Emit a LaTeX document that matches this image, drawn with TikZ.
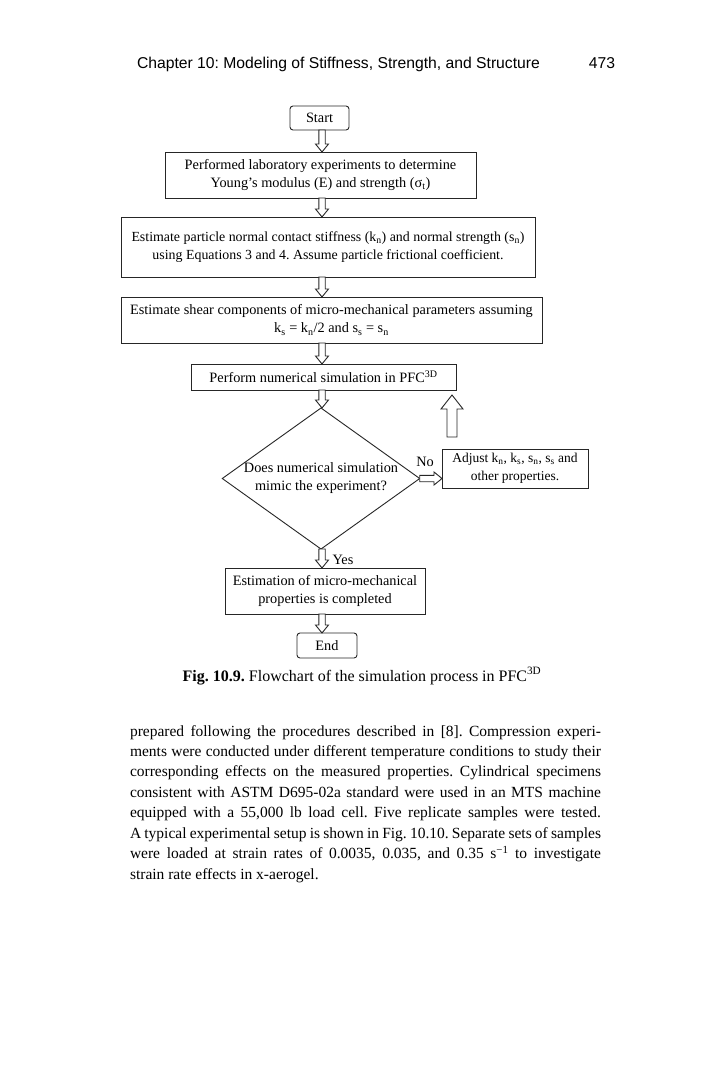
\documentclass[tikz,border=0pt]{standalone}
\usepackage{fontspec}
\setmainfont{Liberation Serif}
\newfontfamily\headfont{Liberation Sans}
\usetikzlibrary{shapes.geometric,calc}
\frenchspacing
\tikzset{
  every node/.style={inner sep=0pt,outer sep=0pt},
  fbox/.style={draw=black!85,line width=0.9pt,align=center,font=\fontsize{14.3}{18}\selectfont},
  rbox/.style={fbox,rounded corners=3pt},
  dbox/.style={draw=black!85,line width=0.9pt,shape=diamond,align=center,font=\fontsize{14.3}{18}\selectfont},
  lbl/.style={font=\fontsize{14.3}{18}\selectfont},
  arrowline/.style={draw=black!85,line width=0.9pt,fill=white,line join=miter},
}
\newcommand\blockarrow[5]{%
  \coordinate (bah) at ($(#2)!#5!(#1)$);
  \draw[arrowline] ($(#1)!#3!90:(#2)$) -- ($(bah)!#3!90:(#2)$) -- ($(bah)!#4!90:(#2)$) -- (#2)
    -- ($(bah)!#4!-90:(#2)$) -- ($(bah)!#3!-90:(#2)$) -- ($(#1)!#3!-90:(#2)$) -- cycle;
}
\begin{document}
\begin{tikzpicture}[x=1pt,y=-1pt]
\frenchspacing
\useasboundingbox[fill=white] (0,0) rectangle (702,1065);
% header
\node[anchor=base west,font=\headfont\fontsize{15.7}{18}\selectfont] (head) at (137,68) {Chapter 10: Modeling of Stiffness, Strength, and Structure};
\node[anchor=base east,font=\headfont\fontsize{15.7}{18}\selectfont] (pageno) at (615,68) {473};
% flowchart
\coordinate (col) at (322,0);
\node[rbox,minimum width=59pt,minimum height=24pt] (start) at (319.5,118) {Start};
\node[fbox,minimum width=311pt,minimum height=46pt] (b1) at (320.5,175) {Performed laboratory experiments to determine\\Young's modulus (E) and strength (σ\textsubscript{t})};
\node[fbox,minimum width=414pt,minimum height=60pt,font=\fontsize{13.9}{18}\selectfont] (b2) at (328,247) {Estimate particle normal contact stiffness (k\textsubscript{n}) and normal strength (s\textsubscript{n})\\using Equations 3 and 4. Assume particle frictional coefficient.};
\node[fbox,minimum width=421pt,minimum height=46pt] (b3) at (331.5,320) {Estimate shear components of micro-mechanical parameters assuming\\k\textsubscript{s} = k\textsubscript{n}/2 and s\textsubscript{s} = s\textsubscript{n}};
\node[fbox,minimum width=265pt,minimum height=26pt] (b4) at (323.5,377) {Perform numerical simulation in PFC\textsuperscript{3D}};
\node[dbox,minimum width=194pt,minimum height=139pt,aspect=1.4] (dia) at (321,478.5) {Does numerical simulation\\mimic the experiment?};
\node[fbox,minimum width=146pt,minimum height=39pt,font=\fontsize{13.5}{18}\selectfont] (adj) at (515,468.5) {Adjust k\textsubscript{n}, k\textsubscript{s}, s\textsubscript{n}, s\textsubscript{s} and\\other properties.};
\node[fbox,minimum width=200pt,minimum height=46pt] (b5) at (325,591) {Estimation of micro-mechanical\\properties is completed};
\node[rbox,minimum width=60pt,minimum height=25pt] (end) at (327,645.5) {End};
% arrows
\coordinate (a1s) at (start.south -| col); \coordinate (a1e) at (b1.north -| col);
\coordinate (a2s) at (b1.south -| col);    \coordinate (a2e) at (b2.north -| col);
\coordinate (a3s) at (b2.south -| col);    \coordinate (a3e) at (b3.north -| col);
\coordinate (a4s) at (b3.south -| col);    \coordinate (a4e) at (b4.north -| col);
\coordinate (a5s) at (b4.south -| col);    \coordinate (a5e) at (dia.north -| col);
\coordinate (a6s) at (dia.south -| col);   \coordinate (a6e) at (b5.north -| col);
\coordinate (a7s) at (b5.south -| col);    \coordinate (a7e) at (end.north -| col);
\coordinate (nos) at (dia.east);           \coordinate (noe) at (dia.east -| adj.west);
\coordinate (upb) at (452,437);            \coordinate (upt) at (452,395);
\blockarrow{a1s}{a1e}{3.2pt}{6.5pt}{8pt}
\blockarrow{a2s}{a2e}{3.2pt}{6.5pt}{8pt}
\blockarrow{a3s}{a3e}{3.2pt}{6.5pt}{8pt}
\blockarrow{a4s}{a4e}{3.2pt}{6.5pt}{8pt}
\blockarrow{a5s}{a5e}{3.2pt}{6.5pt}{8pt}
\blockarrow{a6s}{a6e}{3.2pt}{6.5pt}{8pt}
\blockarrow{a7s}{a7e}{3.2pt}{6.5pt}{8pt}
\blockarrow{nos}{noe}{3.2pt}{6.5pt}{8pt}
\blockarrow{upb}{upt}{5pt}{11pt}{14pt}
\node[lbl] (nolbl) at (425,462) {No};
\node[lbl] (yeslbl) at (343,560) {Yes};
% caption
\node[font=\fontsize{16}{19}\selectfont] (cap) at (362,676) {\textbf{Fig. 10.9.} Flowchart of the simulation process in PFC\textsuperscript{3D}};
% body text
\node[anchor=base west] (body) at (130,736) {\parbox[t]{471pt}{\fontsize{15.5}{20.43}\selectfont\frenchspacing\noindent
prepared following the procedures described in [8]. Compression experi-\linebreak
ments were conducted under different temperature conditions to study their\linebreak
corresponding effects on the measured properties. Cylindrical specimens\linebreak
consistent with ASTM D695-02a standard were used in an MTS machine\linebreak
equipped with a 55,000 lb load cell. Five replicate samples were tested.\linebreak
A typical experimental setup is shown in Fig.~10.10. Separate sets of samples\linebreak
were loaded at strain rates of 0.0035, 0.035, and 0.35~s\textsuperscript{−1} to investigate\linebreak
strain rate effects in x-aerogel.}};
\end{tikzpicture}
\end{document}
